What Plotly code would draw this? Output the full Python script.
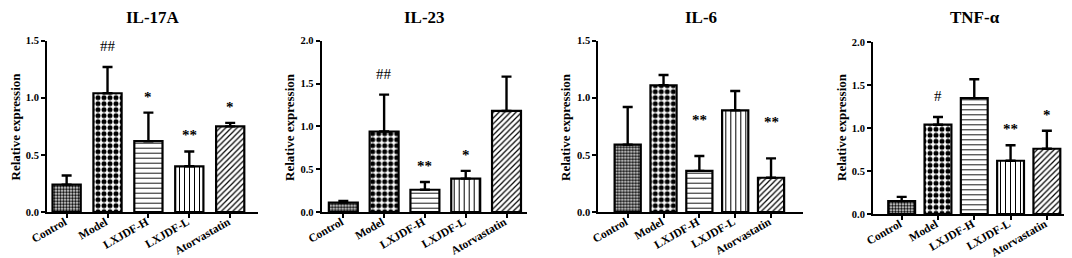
import plotly.graph_objects as go

# ---------------- data ----------------
groups = ["Control", "Model", "LXJDF-H", "LXJDF-L", "Atorvastatin"]
panel_titles = ["IL-17A", "IL-23", "IL-6", "TNF-α"]

il17a_mean = [0.24, 1.04, 0.62, 0.40, 0.75]
il17a_err = [0.08, 0.23, 0.25, 0.13, 0.03]
il17a_sig = ["", "##", "*", "**", "*"]

il23_mean = [0.11, 0.94, 0.26, 0.39, 1.18]
il23_err = [0.02, 0.43, 0.09, 0.09, 0.40]
il23_sig = ["", "##", "**", "*", ""]

il6_mean = [0.59, 1.11, 0.36, 0.89, 0.30]
il6_err = [0.33, 0.09, 0.13, 0.17, 0.17]
il6_sig = ["", "", "**", "", "**"]

tnf_mean = [0.15, 1.04, 1.35, 0.62, 0.76]
tnf_err = [0.05, 0.09, 0.22, 0.18, 0.21]
tnf_sig = ["", "#", "", "**", "*"]

y_max = [1.5, 2.0, 1.5, 2.0]

# ---------------- layout geometry (pixels) ----------------
W, H = 1072, 258
geo = [
    dict(x0=39, x1=250, ybot=204, ytop=32.7, xr=[-0.48, 4.68], bw=0.69, ytl=7.5, extra=0),
    dict(x0=313.7, x1=518.5, ybot=204, ytop=32.7, xr=[-0.53, 4.49], bw=0.71, ytl=282, extra=0),
    dict(x0=590.3, x1=795.3, ybot=204, ytop=32.7, xr=[-0.82, 4.90], bw=0.73, ytl=558, extra=20),
    dict(x0=865, x1=1069, ybot=206, ytop=34.3, xr=[-0.79, 4.83], bw=0.74, ytl=834, extra=0),
]

means = [il17a_mean, il23_mean, il6_mean, tnf_mean]
errs = [il17a_err, il23_err, il6_err, tnf_err]
sigs = [il17a_sig, il23_sig, il6_sig, tnf_sig]

FONT = "Liberation Serif"
shapes = [".", ".", "-", "|", "/"]
psizes = [3, 6, 5, 5, 4]
psolid = [0.6, 0.55, 0.18, 0.2, 0.3]

fig = go.Figure()
annotations = []
layout = {}

for i in range(4):
    g = geo[i]
    xa = "x" if i == 0 else f"x{i+1}"
    ya = "y" if i == 0 else f"y{i+1}"
    fig.add_trace(go.Bar(
        x=groups, y=means[i], xaxis=xa, yaxis=ya, width=g["bw"],
        marker=dict(color="white", line=dict(color="black", width=2.2),
                    pattern=dict(shape=shapes, size=psizes, solidity=psolid,
                                 fgcolor="black", bgcolor="white", fillmode="replace")),
        error_y=dict(type="data", symmetric=False, array=errs[i],
                     arrayminus=[0] * len(groups), color="black",
                     thickness=2.4, width=5),
        showlegend=False, hoverinfo="skip",
    ))
    xkey = "xaxis" if i == 0 else f"xaxis{i+1}"
    ykey = "yaxis" if i == 0 else f"yaxis{i+1}"
    layout[xkey] = dict(
        domain=[g["x0"] / W, g["x1"] / W], anchor=ya, range=g["xr"],
        showline=True, linecolor="black", linewidth=2, ticks="outside",
        ticklen=4, tickwidth=1.5, tickcolor="black", showgrid=False,
        tickangle=-30, tickfont=dict(family=FONT, size=11.5, color="black", weight="bold"),
        ticklabelstandoff=-7, ticklabelshift=-2,
        zeroline=False, fixedrange=True, automargin=False,
    )
    layout[ykey] = dict(
        domain=[(H - g["ybot"]) / H, (H - g["ytop"]) / H], anchor=xa,
        range=[0, y_max[i]], dtick=0.5, tickformat=".1f",
        showline=True, linecolor="black", linewidth=2, ticks="outside",
        ticklen=4, tickwidth=1.5, tickcolor="black", showgrid=False,
        zeroline=False, tickfont=dict(family=FONT, size=10.5, color="black", weight="bold"),
        fixedrange=True, automargin=False,
    )
    # panel title
    annotations.append(dict(
        x=(g["x0"] + g["x1"]) / 2 / W, y=1 - 10 / H, xref="paper", yref="paper",
        text=panel_titles[i], showarrow=False, xanchor="center", yanchor="middle",
        font=dict(family=FONT, size=17, color="black", weight="bold"),
    ))
    # y title
    annotations.append(dict(
        x=g["ytl"] / W, y=1 - 119 / H, xref="paper", yref="paper",
        text="Relative expression", textangle=-90, showarrow=False,
        xanchor="center", yanchor="middle",
        font=dict(family=FONT, size=13, color="black", weight="bold"),
    ))
    # significance marks
    for j, s in enumerate(sigs[i]):
        if not s:
            continue
        shift = (11 if "#" in s else 6) + g["extra"]
        annotations.append(dict(
            x=groups[j], y=means[i][j] + errs[i][j], xref=xa, yref=ya,
            text=s, showarrow=False, xanchor="center", yanchor="bottom",
            yshift=shift, font=dict(family=FONT, size=15, color="black",
                                    weight="bold" if "*" in s else "normal"),
        ))

fig.update_layout(
    width=W, height=H, margin=dict(l=0, r=0, t=0, b=0, pad=0),
    paper_bgcolor="white", plot_bgcolor="white",
    annotations=annotations, **layout,
)

fig.write_html("out.html")
